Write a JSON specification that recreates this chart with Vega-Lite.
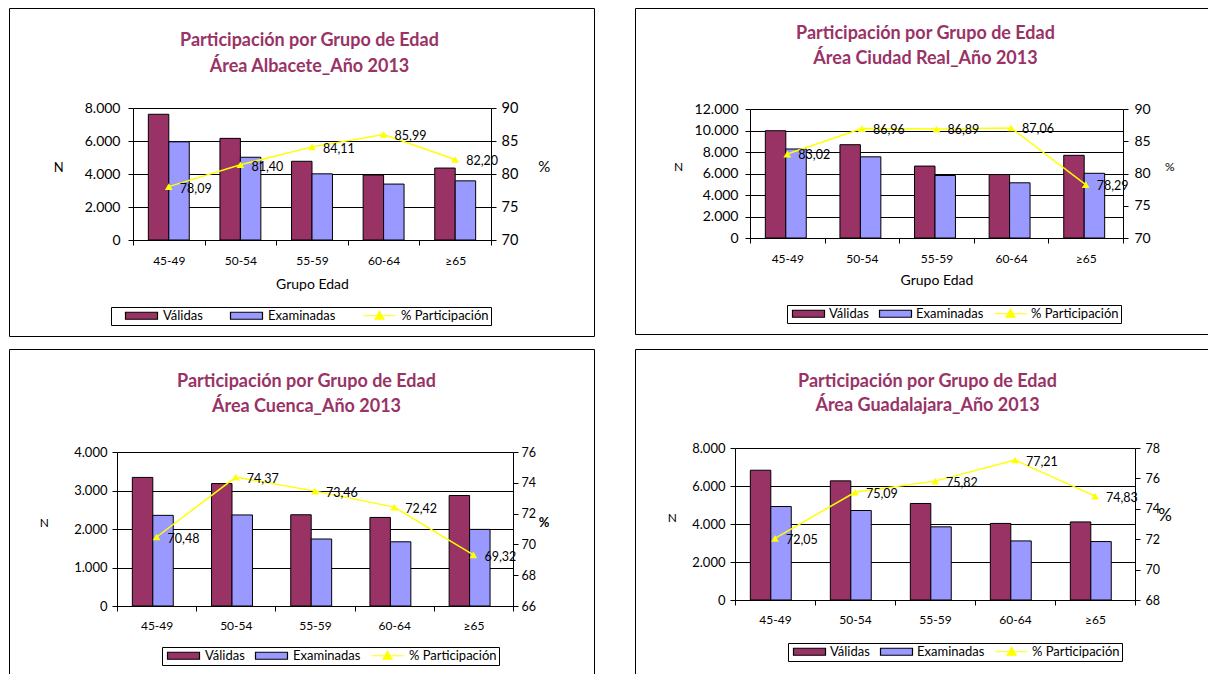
{
  "$schema": "https://vega.github.io/schema/vega-lite/v6.json",
  "padding": {"left": 8, "top": 7, "right": 0, "bottom": 0},
  "background": "white",
  "datasets": {
    "barras": [
      {"area": "Albacete", "grupo": "45-49", "serie": "Válidas", "n": 7620},
      {"area": "Albacete", "grupo": "45-49", "serie": "Examinadas", "n": 5950},
      {"area": "Albacete", "grupo": "50-54", "serie": "Válidas", "n": 6160},
      {"area": "Albacete", "grupo": "50-54", "serie": "Examinadas", "n": 5015},
      {"area": "Albacete", "grupo": "55-59", "serie": "Válidas", "n": 4770},
      {"area": "Albacete", "grupo": "55-59", "serie": "Examinadas", "n": 4010},
      {"area": "Albacete", "grupo": "60-64", "serie": "Válidas", "n": 3940},
      {"area": "Albacete", "grupo": "60-64", "serie": "Examinadas", "n": 3390},
      {"area": "Albacete", "grupo": "≥65", "serie": "Válidas", "n": 4360},
      {"area": "Albacete", "grupo": "≥65", "serie": "Examinadas", "n": 3585},
      {"area": "Ciudad Real", "grupo": "45-49", "serie": "Válidas", "n": 9980},
      {"area": "Ciudad Real", "grupo": "45-49", "serie": "Examinadas", "n": 8280},
      {"area": "Ciudad Real", "grupo": "50-54", "serie": "Válidas", "n": 8680},
      {"area": "Ciudad Real", "grupo": "50-54", "serie": "Examinadas", "n": 7550},
      {"area": "Ciudad Real", "grupo": "55-59", "serie": "Válidas", "n": 6690},
      {"area": "Ciudad Real", "grupo": "55-59", "serie": "Examinadas", "n": 5815},
      {"area": "Ciudad Real", "grupo": "60-64", "serie": "Válidas", "n": 5900},
      {"area": "Ciudad Real", "grupo": "60-64", "serie": "Examinadas", "n": 5135},
      {"area": "Ciudad Real", "grupo": "≥65", "serie": "Válidas", "n": 7690},
      {"area": "Ciudad Real", "grupo": "≥65", "serie": "Examinadas", "n": 6020},
      {"area": "Cuenca", "grupo": "45-49", "serie": "Válidas", "n": 3340},
      {"area": "Cuenca", "grupo": "45-49", "serie": "Examinadas", "n": 2355},
      {"area": "Cuenca", "grupo": "50-54", "serie": "Válidas", "n": 3180},
      {"area": "Cuenca", "grupo": "50-54", "serie": "Examinadas", "n": 2365},
      {"area": "Cuenca", "grupo": "55-59", "serie": "Válidas", "n": 2370},
      {"area": "Cuenca", "grupo": "55-59", "serie": "Examinadas", "n": 1740},
      {"area": "Cuenca", "grupo": "60-64", "serie": "Válidas", "n": 2300},
      {"area": "Cuenca", "grupo": "60-64", "serie": "Examinadas", "n": 1668},
      {"area": "Cuenca", "grupo": "≥65", "serie": "Válidas", "n": 2870},
      {"area": "Cuenca", "grupo": "≥65", "serie": "Examinadas", "n": 1990},
      {"area": "Guadalajara", "grupo": "45-49", "serie": "Válidas", "n": 6830},
      {"area": "Guadalajara", "grupo": "45-49", "serie": "Examinadas", "n": 4920},
      {"area": "Guadalajara", "grupo": "50-54", "serie": "Válidas", "n": 6270},
      {"area": "Guadalajara", "grupo": "50-54", "serie": "Examinadas", "n": 4710},
      {"area": "Guadalajara", "grupo": "55-59", "serie": "Válidas", "n": 5080},
      {"area": "Guadalajara", "grupo": "55-59", "serie": "Examinadas", "n": 3850},
      {"area": "Guadalajara", "grupo": "60-64", "serie": "Válidas", "n": 4030},
      {"area": "Guadalajara", "grupo": "60-64", "serie": "Examinadas", "n": 3110},
      {"area": "Guadalajara", "grupo": "≥65", "serie": "Válidas", "n": 4110},
      {"area": "Guadalajara", "grupo": "≥65", "serie": "Examinadas", "n": 3075}
    ],
    "pct": [
      {"area": "Albacete", "grupo": "45-49", "pct": 78.09},
      {"area": "Albacete", "grupo": "50-54", "pct": 81.40},
      {"area": "Albacete", "grupo": "55-59", "pct": 84.11},
      {"area": "Albacete", "grupo": "60-64", "pct": 85.99},
      {"area": "Albacete", "grupo": "≥65", "pct": 82.20},
      {"area": "Ciudad Real", "grupo": "45-49", "pct": 83.02},
      {"area": "Ciudad Real", "grupo": "50-54", "pct": 86.96},
      {"area": "Ciudad Real", "grupo": "55-59", "pct": 86.89},
      {"area": "Ciudad Real", "grupo": "60-64", "pct": 87.06},
      {"area": "Ciudad Real", "grupo": "≥65", "pct": 78.29},
      {"area": "Cuenca", "grupo": "45-49", "pct": 70.48},
      {"area": "Cuenca", "grupo": "50-54", "pct": 74.37},
      {"area": "Cuenca", "grupo": "55-59", "pct": 73.46},
      {"area": "Cuenca", "grupo": "60-64", "pct": 72.42},
      {"area": "Cuenca", "grupo": "≥65", "pct": 69.32},
      {"area": "Guadalajara", "grupo": "45-49", "pct": 72.05},
      {"area": "Guadalajara", "grupo": "50-54", "pct": 75.09},
      {"area": "Guadalajara", "grupo": "55-59", "pct": 75.82},
      {"area": "Guadalajara", "grupo": "60-64", "pct": 77.21},
      {"area": "Guadalajara", "grupo": "≥65", "pct": 74.83}
    ]
  },
  "columns": 2,
  "spacing": {"row": 11, "column": 39},
  "resolve": {"scale": {"color": "independent"}, "legend": {"color": "independent"}},
  "concat": [
    {
      "width": 585, "height": 328,
      "view": {"stroke": "black", "strokeWidth": 1, "fill": "white"},
      "title": {"text": ["Participación por Grupo de Edad", "Área Albacete_Año 2013"], "color": "#993366", "font": "Lato", "fontSize": 18, "fontWeight": "bold", "lineHeight": 26, "anchor": "middle", "offset": -68, "dx": 8},
      "layer": [
        {
          "data": {"name": "barras"},
          "transform": [{"filter": "datum.area === 'Albacete'"}],
          "mark": {"type": "bar", "stroke": "black", "strokeWidth": 1},
          "encoding": {
            "x": {"field": "grupo", "type": "nominal", "sort": ["45-49", "50-54", "55-59", "60-64", "≥65"], "scale": {"range": [124, 482], "paddingInner": 0, "paddingOuter": 0}, "axis": {"orient": "bottom", "offset": -96, "title": "Grupo Edad", "labelAngle": 0, "tickBand": "extent", "tickSize": 5, "labelPadding": 10, "labelFontSize": 12, "titleFontSize": 14, "titlePadding": 11, "grid": false}},
            "xOffset": {"field": "serie", "type": "nominal", "sort": ["Válidas", "Examinadas"], "scale": {"paddingInner": 0, "paddingOuter": 0.75}},
            "y": {"field": "n", "type": "quantitative", "scale": {"domain": [0, 8000], "range": [232, 100], "nice": false}, "axis": {"orient": "left", "offset": -124, "values": [0, 2000, 4000, 6000, 8000], "format": ",.0f", "title": "N", "titleAngle": 0, "titlePadding": 26, "tickSize": 5, "labelPadding": 8, "labelFontSize": 14, "titleFontSize": 13, "grid": true}},
            "color": {"field": "serie", "type": "nominal", "scale": {"domain": ["Válidas", "Examinadas", "% Participación"], "range": ["#993366", "#9999FF", "#FFFF00"]},
              "legend": {"orient": "none", "legendX": 102, "legendY": 299, "direction": "horizontal", "title": null, "strokeColor": "black", "padding": 2, "columnPadding": 15, "labelFontSize": 13, "labelFont": "Lato", "symbolSize": 100, "symbolOffset": 22, "labelOffset": 15,
                "symbolType": "M-3.2,-0.7H3.2V0.7H-3.2Z", "symbolStrokeColor": "black", "symbolStrokeWidth": 1,
                "encode": {"symbols": {"update": {
                  "shape": {"signal": "datum.value === '% Participación' ? 'M-3.2,0H3.2M0,-0.9L0.9,0.7H-0.9Z' : 'M-3.2,-0.7H3.2V0.7H-3.2Z'"},
                  "stroke": {"signal": "datum.value === '% Participación' ? '#FFFF00' : '#000000'"},
                  "strokeWidth": {"value": 1.2}}}}}}
          }
        },
        {
          "data": {"name": "pct"},
          "transform": [{"filter": "datum.area === 'Albacete'"}],
          "encoding": {
            "x": {"field": "grupo", "type": "nominal", "sort": ["45-49", "50-54", "55-59", "60-64", "≥65"]},
            "y": {"field": "pct", "type": "quantitative", "scale": {"domain": [70, 90], "range": [232, 100], "nice": false, "zero": false}, "axis": {"orient": "right", "offset": -103, "values": [70, 75, 80, 85, 90], "title": "%", "titleAngle": 0, "titlePadding": 26, "tickSize": 5, "labelPadding": 5, "labelFontSize": 14.5, "titleFontSize": 15, "grid": false}}
          },
          "layer": [
            {"mark": {"type": "line", "strokeWidth": 1.5, "color": "#FFFF00"}},
            {"mark": {"type": "point", "shape": "triangle-up", "filled": true, "size": 60, "opacity": 1, "color": "#FFFF00"}},
            {"mark": {"type": "text", "align": "left", "baseline": "middle", "dx": 11, "dy": 2, "fontSize": 12.5, "font": "Lato", "color": "black"}, "encoding": {"text": {"field": "pct", "type": "quantitative", "format": ".2f"}}}
          ]
        }
      ],
      "resolve": {"scale": {"y": "independent"}}
    },
    {
      "width": 575, "height": 326,
      "view": {"stroke": "black", "strokeWidth": 1, "fill": "white"},
      "title": {"text": ["Participación por Grupo de Edad", "Área Ciudad Real_Año 2013"], "color": "#993366", "font": "Lato", "fontSize": 18, "fontWeight": "bold", "lineHeight": 25, "anchor": "middle", "offset": -60, "dx": 3},
      "layer": [
        {
          "data": {"name": "barras"},
          "transform": [{"filter": "datum.area === 'Ciudad Real'"}],
          "mark": {"type": "bar", "stroke": "black", "strokeWidth": 1},
          "encoding": {
            "x": {"field": "grupo", "type": "nominal", "sort": ["45-49", "50-54", "55-59", "60-64", "≥65"], "scale": {"range": [115, 488], "paddingInner": 0, "paddingOuter": 0}, "axis": {"orient": "bottom", "offset": -96, "title": "Grupo Edad", "labelAngle": 0, "tickBand": "extent", "tickSize": 5, "labelPadding": 10, "labelFontSize": 12, "titleFontSize": 14, "titlePadding": 9, "grid": false}},
            "xOffset": {"field": "serie", "type": "nominal", "sort": ["Válidas", "Examinadas"], "scale": {"paddingInner": 0, "paddingOuter": 0.75}},
            "y": {"field": "n", "type": "quantitative", "scale": {"domain": [0, 12000], "range": [230, 101], "nice": false}, "axis": {"orient": "left", "offset": -115, "values": [0, 2000, 4000, 6000, 8000, 10000, 12000], "format": ",.0f", "title": "N", "titleAngle": 0, "titlePadding": 16, "tickSize": 5, "labelPadding": 7, "labelFontSize": 14, "titleFontSize": 12, "grid": true}},
            "color": {"field": "serie", "type": "nominal", "scale": {"domain": ["Válidas", "Examinadas", "% Participación"], "range": ["#993366", "#9999FF", "#FFFF00"]},
              "legend": {"orient": "none", "legendX": 152, "legendY": 297, "direction": "horizontal", "title": null, "strokeColor": "black", "padding": 2, "columnPadding": 7, "labelFontSize": 13, "labelFont": "Lato", "symbolSize": 100, "symbolOffset": 13, "labelOffset": 14,
                "symbolType": "M-3.2,-0.7H3.2V0.7H-3.2Z", "symbolStrokeColor": "black", "symbolStrokeWidth": 1,
                "encode": {"symbols": {"update": {
                  "shape": {"signal": "datum.value === '% Participación' ? 'M-3.2,0H3.2M0,-0.9L0.9,0.7H-0.9Z' : 'M-3.2,-0.7H3.2V0.7H-3.2Z'"},
                  "stroke": {"signal": "datum.value === '% Participación' ? '#FFFF00' : '#000000'"},
                  "strokeWidth": {"value": 1.2}}}}}}
          }
        },
        {
          "data": {"name": "pct"},
          "transform": [{"filter": "datum.area === 'Ciudad Real'"}],
          "encoding": {
            "x": {"field": "grupo", "type": "nominal", "sort": ["45-49", "50-54", "55-59", "60-64", "≥65"]},
            "y": {"field": "pct", "type": "quantitative", "scale": {"domain": [70, 90], "range": [230, 101], "nice": false, "zero": false}, "axis": {"orient": "right", "offset": -87, "values": [70, 75, 80, 85, 90], "title": "%", "titleAngle": 0, "titlePadding": 19, "tickSize": 5, "labelPadding": 6, "labelFontSize": 14, "titleFontSize": 12, "grid": false}}
          },
          "layer": [
            {"mark": {"type": "line", "strokeWidth": 1.5, "color": "#FFFF00"}},
            {"mark": {"type": "point", "shape": "triangle-up", "filled": true, "size": 60, "opacity": 1, "color": "#FFFF00"}},
            {"mark": {"type": "text", "align": "left", "baseline": "middle", "dx": 11, "dy": 1, "fontSize": 12.5, "font": "Lato", "color": "black"}, "encoding": {"text": {"field": "pct", "type": "quantitative", "format": ".2f"}}}
          ]
        }
      ],
      "resolve": {"scale": {"y": "independent"}}
    },
    {
      "width": 585, "height": 326,
      "view": {"stroke": "black", "strokeWidth": 1, "fill": "white"},
      "title": {"text": ["Participación por Grupo de Edad", "Área Cuenca_Año 2013"], "color": "#993366", "font": "Lato", "fontSize": 18, "fontWeight": "bold", "lineHeight": 25, "anchor": "middle", "offset": -67, "dx": 5},
      "layer": [
        {
          "data": {"name": "barras"},
          "transform": [{"filter": "datum.area === 'Cuenca'"}],
          "mark": {"type": "bar", "stroke": "black", "strokeWidth": 1},
          "encoding": {
            "x": {"field": "grupo", "type": "nominal", "sort": ["45-49", "50-54", "55-59", "60-64", "≥65"], "scale": {"range": [108, 504], "paddingInner": 0, "paddingOuter": 0}, "axis": {"orient": "bottom", "offset": -69, "title": null, "labelAngle": 0, "tickBand": "extent", "tickSize": 5, "labelPadding": 9, "labelFontSize": 12, "grid": false}},
            "xOffset": {"field": "serie", "type": "nominal", "sort": ["Válidas", "Examinadas"], "scale": {"paddingInner": 0, "paddingOuter": 0.75}},
            "y": {"field": "n", "type": "quantitative", "scale": {"domain": [0, 4000], "range": [257, 103], "nice": false}, "axis": {"orient": "left", "offset": -108, "values": [0, 1000, 2000, 3000, 4000], "format": ",.0f", "title": "N", "titleAngle": 0, "titlePadding": 30, "tickSize": 5, "labelPadding": 5, "labelFontSize": 13, "titleFontSize": 12, "grid": true}},
            "color": {"field": "serie", "type": "nominal", "scale": {"domain": ["Válidas", "Examinadas", "% Participación"], "range": ["#993366", "#9999FF", "#FFFF00"]},
              "legend": {"orient": "none", "legendX": 153, "legendY": 298, "direction": "horizontal", "title": null, "strokeColor": "black", "padding": 2, "columnPadding": 7, "labelFontSize": 13, "labelFont": "Lato", "symbolSize": 100, "symbolOffset": 13, "labelOffset": 15,
                "symbolType": "M-3.2,-0.7H3.2V0.7H-3.2Z", "symbolStrokeColor": "black", "symbolStrokeWidth": 1,
                "encode": {"symbols": {"update": {
                  "shape": {"signal": "datum.value === '% Participación' ? 'M-3.2,0H3.2M0,-0.9L0.9,0.7H-0.9Z' : 'M-3.2,-0.7H3.2V0.7H-3.2Z'"},
                  "stroke": {"signal": "datum.value === '% Participación' ? '#FFFF00' : '#000000'"},
                  "strokeWidth": {"value": 1.2}}}}}}
          }
        },
        {
          "data": {"name": "pct"},
          "transform": [{"filter": "datum.area === 'Cuenca'"}],
          "encoding": {
            "x": {"field": "grupo", "type": "nominal", "sort": ["45-49", "50-54", "55-59", "60-64", "≥65"]},
            "y": {"field": "pct", "type": "quantitative", "scale": {"domain": [66, 76], "range": [257, 103], "nice": false, "zero": false}, "axis": {"orient": "right", "offset": -81, "values": [66, 68, 70, 72, 74, 76], "title": "%", "titleAngle": 0, "titlePadding": 8, "tickSize": 5, "labelPadding": 3, "labelFontSize": 12.5, "titleFontSize": 13, "titleFontWeight": "bold", "grid": false}}
          },
          "layer": [
            {"mark": {"type": "line", "strokeWidth": 1.5, "color": "#FFFF00"}},
            {"mark": {"type": "point", "shape": "triangle-up", "filled": true, "size": 60, "opacity": 1, "color": "#FFFF00"}},
            {"mark": {"type": "text", "align": "left", "baseline": "middle", "dx": 11, "dy": 2, "fontSize": 12.5, "font": "Lato", "color": "black"}, "encoding": {"text": {"field": "pct", "type": "quantitative", "format": ".2f"}}}
          ]
        }
      ],
      "resolve": {"scale": {"y": "independent"}}
    },
    {
      "width": 575, "height": 326,
      "view": {"stroke": "black", "strokeWidth": 1, "fill": "white"},
      "title": {"text": ["Participación por Grupo de Edad", "Área Guadalajara_Año 2013"], "color": "#993366", "font": "Lato", "fontSize": 18, "fontWeight": "bold", "lineHeight": 24, "anchor": "middle", "offset": -66, "dx": 5},
      "layer": [
        {
          "data": {"name": "barras"},
          "transform": [{"filter": "datum.area === 'Guadalajara'"}],
          "mark": {"type": "bar", "stroke": "black", "strokeWidth": 1},
          "encoding": {
            "x": {"field": "grupo", "type": "nominal", "sort": ["45-49", "50-54", "55-59", "60-64", "≥65"], "scale": {"range": [100, 500], "paddingInner": 0, "paddingOuter": 0}, "axis": {"orient": "bottom", "offset": -75, "title": null, "labelAngle": 0, "tickBand": "extent", "tickSize": 5, "labelPadding": 9, "labelFontSize": 12, "grid": false}},
            "xOffset": {"field": "serie", "type": "nominal", "sort": ["Válidas", "Examinadas"], "scale": {"paddingInner": 0, "paddingOuter": 0.75}},
            "y": {"field": "n", "type": "quantitative", "scale": {"domain": [0, 8000], "range": [251, 99], "nice": false}, "axis": {"orient": "left", "offset": -100, "values": [0, 2000, 4000, 6000, 8000], "format": ",.0f", "title": "N", "titleAngle": 0, "titlePadding": 20, "tickSize": 5, "labelPadding": 5, "labelFontSize": 13, "titleFontSize": 12, "grid": true}},
            "color": {"field": "serie", "type": "nominal", "scale": {"domain": ["Válidas", "Examinadas", "% Participación"], "range": ["#993366", "#9999FF", "#FFFF00"]},
              "legend": {"orient": "none", "legendX": 153, "legendY": 294, "direction": "horizontal", "title": null, "strokeColor": "black", "padding": 2, "columnPadding": 7, "labelFontSize": 13, "labelFont": "Lato", "symbolSize": 100, "symbolOffset": 13, "labelOffset": 14,
                "symbolType": "M-3.2,-0.7H3.2V0.7H-3.2Z", "symbolStrokeColor": "black", "symbolStrokeWidth": 1,
                "encode": {"symbols": {"update": {
                  "shape": {"signal": "datum.value === '% Participación' ? 'M-3.2,0H3.2M0,-0.9L0.9,0.7H-0.9Z' : 'M-3.2,-0.7H3.2V0.7H-3.2Z'"},
                  "stroke": {"signal": "datum.value === '% Participación' ? '#FFFF00' : '#000000'"},
                  "strokeWidth": {"value": 1.2}}}}}}
          }
        },
        {
          "data": {"name": "pct"},
          "transform": [{"filter": "datum.area === 'Guadalajara'"}],
          "encoding": {
            "x": {"field": "grupo", "type": "nominal", "sort": ["45-49", "50-54", "55-59", "60-64", "≥65"]},
            "y": {"field": "pct", "type": "quantitative", "scale": {"domain": [68, 78], "range": [251, 99], "nice": false, "zero": false}, "axis": {"orient": "right", "offset": -75, "values": [68, 70, 72, 74, 76, 78], "title": "%", "titleAngle": 0, "titlePadding": 5, "tickSize": 5, "labelPadding": 5, "labelFontSize": 12.5, "titleFontSize": 17, "grid": false}}
          },
          "layer": [
            {"mark": {"type": "line", "strokeWidth": 1.5, "color": "#FFFF00"}},
            {"mark": {"type": "point", "shape": "triangle-up", "filled": true, "size": 60, "opacity": 1, "color": "#FFFF00"}},
            {"mark": {"type": "text", "align": "left", "baseline": "middle", "dx": 11, "dy": 2, "fontSize": 12.5, "font": "Lato", "color": "black"}, "encoding": {"text": {"field": "pct", "type": "quantitative", "format": ".2f"}}}
          ]
        }
      ],
      "resolve": {"scale": {"y": "independent"}}
    }
  ],
  "config": {
    "font": "Lato",
    "locale": {"number": {"decimal": ",", "thousands": ".", "grouping": [3], "currency": ["", " €"]}},
    "view": {"stroke": "black"},
    "axis": {"domainColor": "black", "tickColor": "black", "gridColor": "black", "gridOpacity": 1, "labelColor": "black", "titleColor": "black", "labelFont": "Lato", "titleFont": "Lato", "titleFontWeight": "normal", "domainWidth": 1, "tickWidth": 1, "gridWidth": 1},
    "legend": {"labelColor": "black"}
  }
}
